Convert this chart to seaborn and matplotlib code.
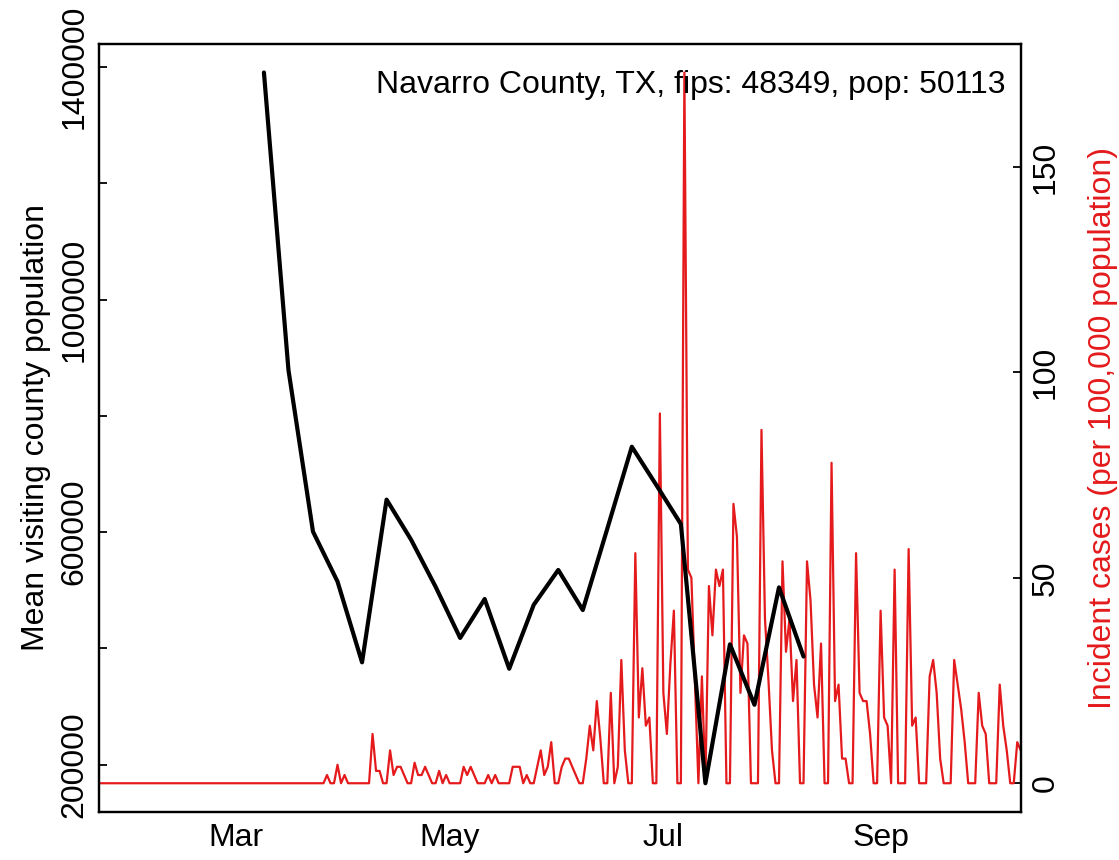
import numpy as np
import pandas as pd
import seaborn as sns
import matplotlib
matplotlib.use("Agg")
import matplotlib.pyplot as plt
import matplotlib.dates as mdates
from matplotlib.ticker import FixedLocator

# weekly mean visiting county population (black line)
visit_start = "2020-03-09"
visit_pop = [1391000, 879000, 601000, 515000, 376000, 656000, 587000, 506000,
             418000, 485000, 365000, 475000, 535000, 466000, 606000, 747000,
             681000, 614000, 168000, 407000, 303000, 505000, 386000]

# daily incident cases per 100,000 (red line), Jan 22 .. Oct 11
case_start = "2020-01-22"
cases_early = [0] * 65
cases_mid = [2, 0, 0, 4.5, 0, 2, 0, 0, 0, 0, 0, 0, 0, 12, 3, 3, 0, 0, 8, 2,
             4, 4, 2, 0, 0, 5, 2, 2, 4, 2, 0, 0, 3, 0, 2, 0, 0, 0, 0, 4,
             2, 4, 2, 0, 0, 0, 2, 0, 2, 0, 0, 0, 0, 4, 4, 4, 0, 2, 0, 0,
             4, 8, 2, 4, 10, 0, 0, 4, 6, 6, 4, 2, 0, 0, 6, 14, 8, 20, 11, 0,
             0, 22, 0, 4, 30, 8, 0, 0, 56, 16, 28, 14, 16, 0, 0, 90, 22, 12,
             29, 42, 0, 0, 173, 52, 50, 25, 0, 26, 0, 48, 36, 52, 48, 52, 0, 0,
             68, 60, 22, 36, 34, 0, 0, 0, 86, 40, 25, 8, 0, 0, 54, 32, 40, 20,
             30, 0, 0, 54, 44.5, 24, 16, 34, 0, 0, 78, 20, 24, 6, 6, 0, 0, 56,
             22, 20, 20, 12, 0, 0, 42, 16, 14, 0, 52]
cases_late = [0, 0, 0, 57, 14, 16, 0, 0, 0, 26, 30, 22, 6, 0, 0, 0, 30, 24,
              18, 10, 0, 0, 0, 22, 14, 12, 0, 0, 0, 24, 14, 8, 0, 0, 10, 8]
cases = cases_early + cases_mid + cases_late

county_label = "Navarro County, TX, fips: 48349, pop: 50113"

visit = pd.DataFrame({"date": pd.date_range(visit_start, periods=len(visit_pop), freq="7D"),
                      "pop": visit_pop})
inc = pd.DataFrame({"date": pd.date_range(case_start, periods=len(cases), freq="D"),
                    "cases": cases})

sns.set_theme(style="white")
plt.rcParams["font.family"] = ["Liberation Sans", "DejaVu Sans"]
plt.rcParams.update({"text.color": "black", "axes.labelcolor": "black",
                     "xtick.color": "black", "ytick.color": "black"})
red = "#E41A1C"
fs = 23

fig = plt.figure(figsize=(11.19, 8.6), dpi=100)
ax = fig.add_axes([0.0887, 0.0562, 0.8235, 0.8926])
ax2 = ax.twinx()

sns.lineplot(data=inc, x="date", y="cases", ax=ax2, color=red, linewidth=1.6)
sns.lineplot(data=visit, x="date", y="pop", ax=ax, color="black", linewidth=3)
ax.set_zorder(ax2.get_zorder() + 1)
ax.patch.set_visible(False)

ax.set_xlim(inc["date"].iloc[0], inc["date"].iloc[-1])
lo, hi = min(visit_pop), max(visit_pop)
ax.set_ylim(lo - 0.04 * (hi - lo), hi + 0.04 * (hi - lo))
cmax = max(cases)
ax2.set_ylim(-0.04 * cmax, 1.04 * cmax)

ax.xaxis.set_major_locator(mdates.MonthLocator(bymonth=[3, 5, 7, 9]))
ax.xaxis.set_major_formatter(mdates.DateFormatter("%b"))
ax.yaxis.set_major_locator(FixedLocator([200000, 400000, 600000, 800000, 1000000, 1200000, 1400000]))
ax.set_yticklabels(["200000", "", "600000", "", "1000000", "", "1400000"],
                   rotation=90, va="center")
ax2.yaxis.set_major_locator(FixedLocator([0, 50, 100, 150]))
ax2.set_yticklabels(["0", "50", "100", "150"], rotation=90, va="center")

for a in (ax, ax2):
    a.tick_params(direction="in", length=6, width=1.3, labelsize=fs, pad=7)
    for s in a.spines.values():
        s.set_linewidth(1.6)
        s.set_color("black")
ax.tick_params(axis="x", pad=8)

ax.set_xlabel("")
ax.set_ylabel("Mean visiting county population", fontsize=fs, labelpad=6)
ax2.set_ylabel("Incident cases (per 100,000 population)", fontsize=fs,
               color=red, labelpad=20)
ax.text(0.983, 0.9466, county_label, transform=ax.transAxes, ha="right",
        va="center", fontsize=fs)

fig.savefig("out.png", dpi=100)
